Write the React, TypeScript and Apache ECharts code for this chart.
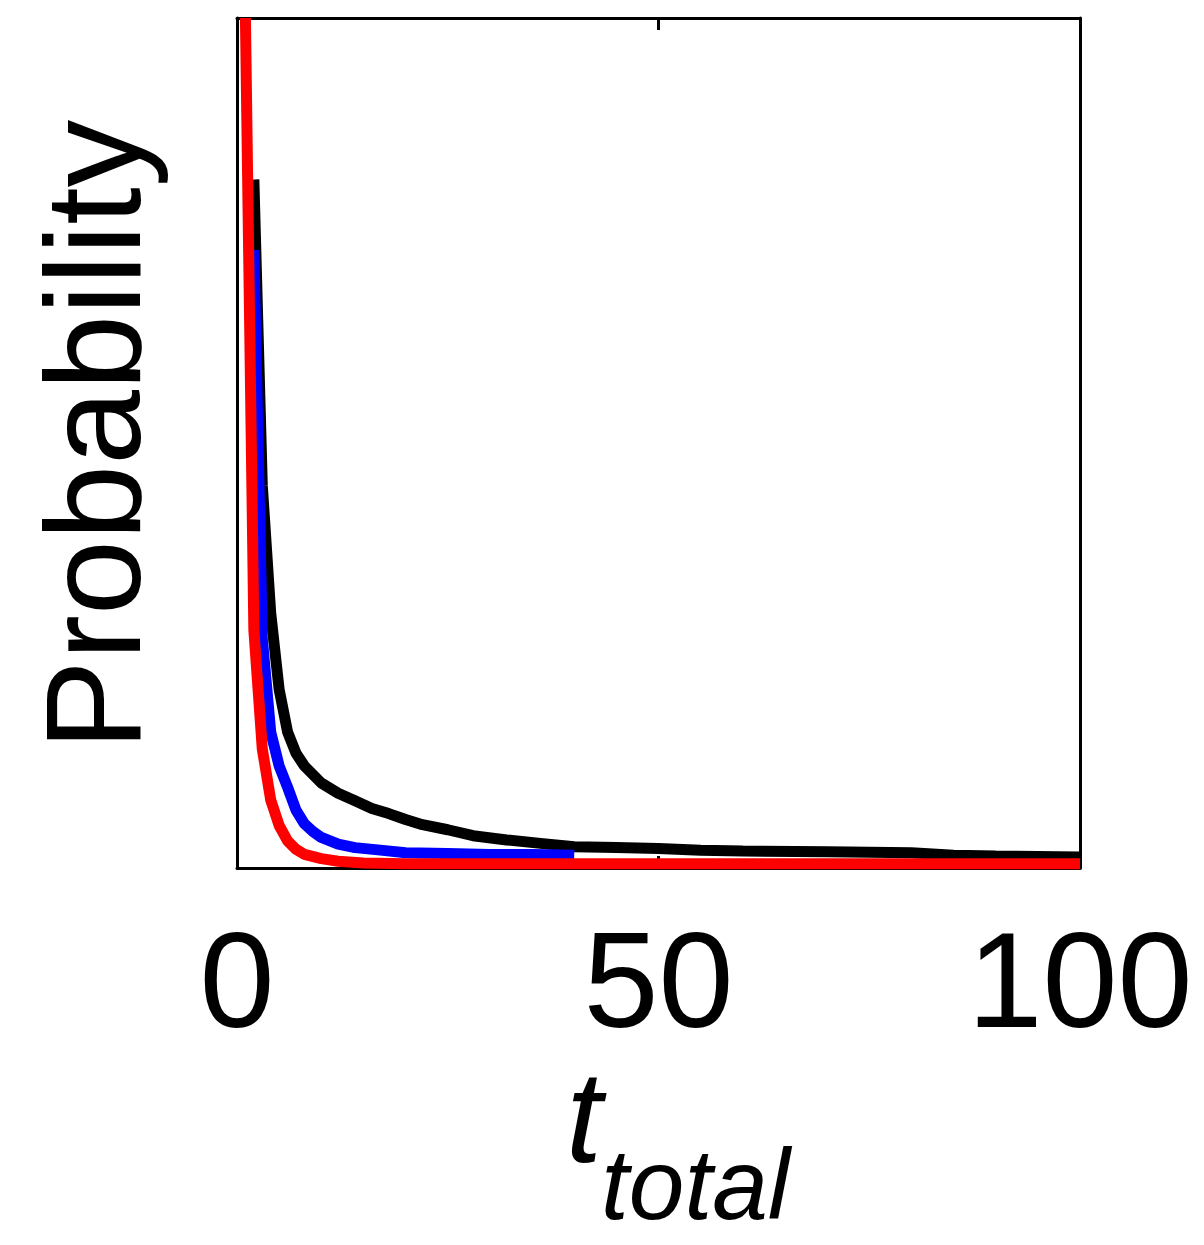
import React, { useEffect, useRef } from "react";
import * as echarts from "echarts";

// t values and probabilities (y normalised so the plot top = 1)
const tBlack = [2, 3, 4, 5, 6, 7, 8, 9, 10, 12, 14, 16, 18, 20, 22, 25, 28, 32, 36, 40, 45, 50, 55, 60, 70, 80, 85, 90, 100];
const pBlack = [0.81, 0.45, 0.3, 0.21, 0.16, 0.135, 0.12, 0.11, 0.1, 0.088, 0.079, 0.07, 0.064, 0.057, 0.051, 0.045, 0.038, 0.033, 0.029, 0.025, 0.024, 0.023, 0.021, 0.02, 0.019, 0.018, 0.015, 0.014, 0.013];

const tBlue = [2, 3, 4, 5, 6, 7, 8, 9, 10, 12, 14, 17, 20, 25, 30, 35, 40];
const pBlue = [0.727, 0.27, 0.16, 0.12, 0.095, 0.068, 0.052, 0.043, 0.036, 0.028, 0.024, 0.021, 0.018, 0.017, 0.016, 0.016, 0.015];

const tRed = [1, 2, 3, 4, 5, 6, 7, 8, 10, 12, 15, 20, 30, 40, 50, 60, 70, 80, 90, 100];
const pRed = [1.0, 0.28, 0.14, 0.08, 0.05, 0.032, 0.022, 0.016, 0.011, 0.008, 0.006, 0.005, 0.005, 0.005, 0.005, 0.005, 0.005, 0.005, 0.005, 0.005];

const xTicks = [0, 50, 100];
const yLabel = "Probability";
const xLabelMain = "t";
const xLabelSub = "total";

const FONT = "Liberation Sans, Arial, sans-serif";

function pairs(ts: number[], ps: number[]) {
  return ts.map((t, i) => [t, ps[i]]);
}

export default function App() {
  const ref = useRef<HTMLDivElement>(null);
  useEffect(() => {
    if (!ref.current) return;
    const chart = echarts.init(ref.current, null, { renderer: "svg" });
    const axisLineStyle = { color: "#000", width: 3 };
    const lineSeries = (data: number[][], color: string) => ({
      type: "line",
      data,
      showSymbol: false,
      symbol: "none",
      lineStyle: { color, width: 11 },
      xAxisIndex: 0,
      yAxisIndex: 0,
    });
    chart.setOption({
      animation: false,
      backgroundColor: "#fff",
      grid: { left: 237, top: 18, width: 843, height: 850, containLabel: false },
      xAxis: [
        {
          type: "value",
          min: xTicks[0],
          max: xTicks[xTicks.length - 1],
          interval: 50,
          position: "bottom",
          axisLine: { show: true, lineStyle: axisLineStyle },
          axisTick: { show: true, inside: true, length: 12, lineStyle: { color: "#000", width: 3 } },
          axisLabel: { show: true, fontSize: 135, fontFamily: FONT, color: "#000", margin: 45 },
          splitLine: { show: false },
        },
        {
          type: "value",
          min: xTicks[0],
          max: xTicks[xTicks.length - 1],
          interval: 50,
          position: "top",
          axisLine: { show: true, onZero: false, lineStyle: axisLineStyle },
          axisTick: { show: true, inside: true, length: 12, lineStyle: { color: "#000", width: 3 } },
          axisLabel: { show: false },
          splitLine: { show: false },
        },
      ],
      yAxis: [
        {
          type: "value",
          min: 0,
          max: 1,
          position: "left",
          axisLine: { show: true, onZero: false, lineStyle: axisLineStyle },
          axisTick: { show: false },
          axisLabel: { show: false },
          splitLine: { show: false },
        },
        {
          type: "value",
          min: 0,
          max: 1,
          position: "right",
          axisLine: { show: true, onZero: false, lineStyle: axisLineStyle },
          axisTick: { show: false },
          axisLabel: { show: false },
          splitLine: { show: false },
        },
      ],
      series: [
        lineSeries(pairs(tBlack, pBlack), "#000000"),
        lineSeries(pairs(tBlue, pBlue), "#0000ff"),
        lineSeries(pairs(tRed, pRed), "#ff0000"),
      ],
      graphic: [
        {
          type: "text",
          x: 93,
          y: 435,
          rotation: Math.PI / 2,
          style: {
            text: yLabel,
            fontSize: 135,
            fontFamily: FONT,
            fill: "#000",
            align: "center",
            verticalAlign: "middle",
          },
        },
        {
          type: "text",
          x: 566,
          y: 1117,
          style: {
            text: xLabelMain,
            fontSize: 130,
            fontStyle: "italic",
            fontFamily: FONT,
            fill: "#000",
            align: "left",
            verticalAlign: "middle",
          },
        },
        {
          type: "text",
          x: 601,
          y: 1184,
          style: {
            text: xLabelSub,
            fontSize: 100,
            fontStyle: "italic",
            fontFamily: FONT,
            fill: "#000",
            align: "left",
            verticalAlign: "middle",
          },
        },
      ],
    });
    return () => chart.dispose();
  }, []);
  return (
    <div
      ref={ref}
      style={{ position: "fixed", left: 0, top: 0, width: 1204, height: 1245, background: "#fff" }}
    />
  );
}
